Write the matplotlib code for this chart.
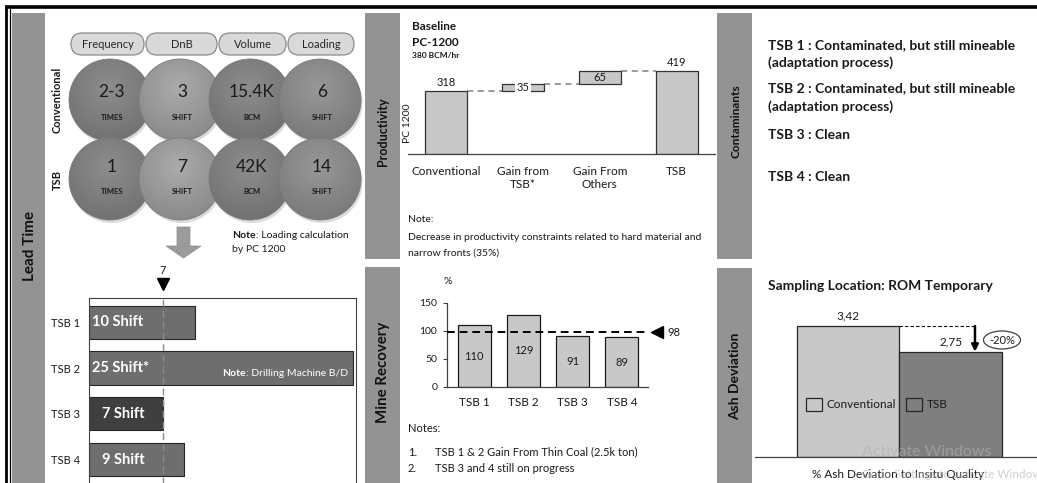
import numpy as np
import matplotlib
matplotlib.use("Agg")
import matplotlib.pyplot as plt
from matplotlib.patches import Rectangle, Circle, FancyBboxPatch, Polygon, Ellipse
from matplotlib.colors import to_rgb

plt.rcParams['font.family'] = ['Lato', 'DejaVu Sans']

# ---------------- data ----------------
metrics = ['Frequency', 'DnB', 'Volume', 'Loading']
metric_units = ['TIMES', 'SHIFT', 'BCM', 'SHIFT']
conventional_values = ['2-3', '3', '15.4K', '6']
tsb_values = ['1', '7', '42K', '14']

sites = ['TSB 1', 'TSB 2', 'TSB 3', 'TSB 4']
lead_time_shifts = [10, 25, 7, 9]
lead_time_labels = ['10 Shift', '25 Shift*', '7 Shift', '9 Shift']
lead_time_target = 7

prod_categories = ['Conventional', 'Gain from\nTSB*', 'Gain From\nOthers', 'TSB']
prod_conventional = 318
prod_gain_tsb = 35
prod_gain_others = 65
prod_tsb = 419

recovery = [110, 129, 91, 89]
recovery_target = 98

ash_series = ['Conventional', 'TSB']
ash_deviation = [3.42, 2.75]
ash_change = '-20%'

contaminant_lines = [
    'TSB 1 : Contaminated, but still mineable',
    '(adaptation process)',
    'TSB 2 : Contaminated, but still mineable',
    '(adaptation process)',
    'TSB 3 : Clean',
    'TSB 4 : Clean',
]

# ---------------- canvas ----------------
W, H = 1037, 483
fig = plt.figure(figsize=(W / 100, H / 100), dpi=100)
fig.patch.set_facecolor('white')


def pixel_axes(zorder):
    a = fig.add_axes([0, 0, 1, 1], zorder=zorder)
    a.set_xlim(0, W)
    a.set_ylim(H, 0)
    a.axis('off')
    a.patch.set_alpha(0)
    return a


bg = pixel_axes(0)     # panels, circles, free text
fg = pixel_axes(10)    # text drawn over the charts

TXT = '#1a1a1a'
BAND = '#939393'


def rect(x0, y0, x1, y1):
    return [x0 / W, 1 - y1 / H, (x1 - x0) / W, (y1 - y0) / H]


renderer = fig.canvas.get_renderer()


def rich_line(ax, x, y, parts, size, color=TXT):
    for txt, weight in parts:
        t = ax.text(x, y, txt, fontsize=size, fontweight=weight, color=color,
                    ha='left', va='center')
        x += t.get_window_extent(renderer=renderer).width


# outer frame
bg.plot([5, W], [7, 7], color='black', lw=2.6, solid_capstyle='butt')
bg.plot([6, 6], [7, H], color='black', lw=2.0)
bg.plot([9.5, 9.5], [9, H], color='black', lw=0.9)

# side bands with section titles
bands = [
    (12, 13, 45, H, 'Lead Time', 246, 11),
    (365, 13, 400, 259, 'Productivity', 132, 9),
    (365, 267, 400, H, 'Mine Recovery', 372, 10.8),
    (717, 13, 752, 259, 'Contaminants', 121, 8.6),
    (717, 268, 752, H, 'Ash Deviation', 376, 10),
]
for x0, y0, x1, y1, title, cy, fs in bands:
    bg.add_patch(Rectangle((x0, y0), x1 - x0, y1 - y0, color=BAND, lw=0, zorder=1))
    bg.text((x0 + x1) / 2 + 1, cy, title, rotation=90, ha='center', va='center',
            fontsize=fs, fontweight='bold', color='#111111', zorder=2)

# ---------------- Lead time: metric pills and circles ----------------
pill_x = [(70, 145), (145, 218), (218, 287), (287, 355)]
for (x0, x1), name in zip(pill_x, metrics):
    bg.add_patch(FancyBboxPatch((x0 + 1, 33), x1 - x0 - 2, 22,
                                boxstyle='round,pad=0,rounding_size=11',
                                facecolor='#d9d9d9', edgecolor='#8a8a8a', lw=0.9, zorder=2))
    bg.text((x0 + x1) / 2, 44.5, name, ha='center', va='center', fontsize=8,
            color='#262626', zorder=3)

circle_cx = [110, 180, 250, 320]
row_cy = [100, 179]
row_num_y = [(92, 117), (167, 191)]
circle_r = 41
circle_colors = ['#848484', '#a0a0a0', '#848484', '#8e8e8e']


def shaded_circle(cx, cy, r, base, z):
    shadow = Circle((cx + 1.5, cy + 3), r, facecolor='#9a9a9a', edgecolor='none',
                    alpha=0.35, zorder=z - 0.2)
    bg.add_patch(shadow)
    n = 160
    yy, xx = np.mgrid[-1:1:n * 1j, -1:1:n * 1j]
    d = np.sqrt((xx + 0.05) ** 2 + (yy + 0.3) ** 2)
    shade = 1.07 - 0.16 * d
    rgb = np.clip(np.array(to_rgb(base))[None, None, :] * shade[..., None], 0, 1)
    im = bg.imshow(rgb, extent=(cx - r, cx + r, cy + r, cy - r), origin='upper',
                   aspect='auto', interpolation='bilinear', zorder=z)
    edge = Circle((cx, cy), r, facecolor='none', edgecolor='#7a7a7a', lw=0.6, zorder=z + 0.1)
    bg.add_patch(edge)
    im.set_clip_path(edge)


z = 3
for row, values in enumerate([conventional_values, tsb_values]):
    for i, (val, unit) in enumerate(zip(values, metric_units)):
        shaded_circle(circle_cx[i], row_cy[row], circle_r, circle_colors[i], z)
        bg.text(circle_cx[i] + 2, row_num_y[row][0], val, ha='center', va='center',
                fontsize=12.5, color='#1a1a1a', zorder=z + 0.5)
        bg.text(circle_cx[i] + 2, row_num_y[row][1], unit, ha='center', va='center',
                fontsize=5.5, fontweight='bold', color='#1a1a1a', zorder=z + 0.5)
        z += 1
bg.set_xlim(0, W)
bg.set_ylim(H, 0)

bg.text(57.5, 100, 'Conventional', rotation=90, ha='center', va='center',
        fontsize=8, fontweight='bold', color=TXT)
bg.text(57.5, 180, 'TSB', rotation=90, ha='center', va='center',
        fontsize=8, fontweight='bold', color=TXT)

# block arrow
bg.add_patch(Polygon([(177, 227), (190, 227), (190, 246), (201, 246), (183.5, 258),
                      (166, 246), (177, 246)], closed=True, facecolor='#9b9b9b',
                     edgecolor='#8a8a8a', lw=0.5, zorder=2))

rich_line(bg, 232, 235, [('Note', 'bold'), (': Loading calculation', 'normal')], 7.5)
bg.text(232, 250, 'by PC 1200', ha='left', va='center', fontsize=7.5, color=TXT)

# ---------------- Lead time: bars per site ----------------
ax1 = fig.add_axes(rect(89, 298, 356, 492), zorder=3)
ax1.set_facecolor('none')
ypos = np.arange(len(sites))
bar_colors = ['#6e6e6e', '#6e6e6e', '#3f3f3f', '#6e6e6e']
ax1.barh(ypos, lead_time_shifts, height=0.72, color=bar_colors, edgecolor='#262626',
         lw=0.8, zorder=2)
ax1.set_xlim(0, 25.25)
ax1.set_ylim(3.7, -0.525)
ax1.set_yticks(ypos, sites)
ax1.set_xticks([])
ax1.tick_params(axis='y', length=0, pad=6.5, labelsize=8, labelcolor=TXT)
for s in ['top', 'left', 'right']:
    ax1.spines[s].set_color('#404040')
    ax1.spines[s].set_linewidth(0.8)
ax1.spines['bottom'].set_visible(False)
ax1.axvline(lead_time_target, color='#8c8c8c', lw=1, ls=(0, (5, 3)), zorder=3)
label_indent = [0.3, 0.3, 1.25, 1.25]
for yi, lab, ind in zip(ypos, lead_time_labels, label_indent):
    ax1.text(ind, yi, lab, ha='left', va='center', color='white', fontsize=10.5,
             fontweight='bold', zorder=4)
trans = ax1.get_xaxis_transform()
ax1.plot([lead_time_target], [1 + 14 / 194], marker='v', color='black', markersize=8,
         transform=trans, clip_on=False)
ax1.text(lead_time_target, 1 + 28 / 194, str(lead_time_target), transform=trans,
         ha='center', va='center', fontsize=8, color=TXT)
rich_line(fg, 222, 373, [('Note', 'bold'), (': Drilling Machine B/D', 'normal')], 7.5,
          color='white')

# ---------------- Productivity waterfall ----------------
bg.text(412, 26, 'Baseline', ha='left', va='center', fontsize=8.5, fontweight='bold', color=TXT)
bg.text(412, 42, 'PC-1200', ha='left', va='center', fontsize=8.5, fontweight='bold', color=TXT)
bg.text(412, 55.5, '380 BCM/hr', ha='left', va='center', fontsize=6, fontweight='bold', color=TXT)
bg.text(408, 123, 'PC 1200', rotation=90, ha='center', va='center', fontsize=7.5, color=TXT)

ax2 = fig.add_axes(rect(408, 50, 715, 154), zorder=3)
ax2.set_facecolor('none')
wx = np.arange(len(prod_categories))
bw = 0.55
bottoms = [0, prod_conventional, prod_conventional + prod_gain_tsb, 0]
heights = [prod_conventional, prod_gain_tsb, prod_gain_others, prod_tsb]
ax2.bar(wx, heights, bottom=bottoms, width=bw, color='#c8c8c8', edgecolor='#333333',
        lw=0.9, zorder=2)
ax2.set_xlim(-0.5, 3.5)
ax2.set_ylim(0, 525)
starts = [prod_conventional, prod_conventional + prod_gain_tsb,
          prod_conventional + prod_gain_tsb + prod_gain_others]
for i in range(3):
    ax2.plot([wx[i] + bw / 2, wx[i + 1] - bw / 2], [starts[i], starts[i]],
             color='#7f7f7f', lw=1.1, ls=(0, (4, 3)), zorder=1)
ax2.text(wx[0], prod_conventional + 14, str(prod_conventional), ha='center', va='bottom',
         fontsize=8, color=TXT)
ax2.text(wx[3], prod_tsb + 14, str(prod_tsb), ha='center', va='bottom', fontsize=8, color=TXT)
ax2.text(wx[1], prod_conventional + prod_gain_tsb / 2, str(prod_gain_tsb), ha='center',
         va='center', fontsize=8, color=TXT, zorder=4,
         bbox=dict(boxstyle='square,pad=0.15', facecolor='white', edgecolor='none'))
ax2.text(wx[2], prod_conventional + prod_gain_tsb + prod_gain_others / 2, str(prod_gain_others),
         ha='center', va='center', fontsize=8, color=TXT, zorder=4)
ax2.set_xticks(wx, prod_categories)
ax2.tick_params(axis='x', length=0, pad=8.5, labelsize=8.5, labelcolor=TXT)
ax2.set_yticks([])
for s in ['top', 'left', 'right']:
    ax2.spines[s].set_visible(False)
ax2.spines['bottom'].set_color('#404040')
ax2.spines['bottom'].set_linewidth(0.9)
for lab in ax2.get_xticklabels():
    lab.set_linespacing(1.25)

bg.text(408, 220, 'Note:', ha='left', va='center', fontsize=7.5, color=TXT)
bg.text(408, 237, 'Decrease in productivity constraints related to hard material and',
        ha='left', va='center', fontsize=7.5, color=TXT)
bg.text(408, 253, 'narrow fronts (35%)', ha='left', va='center', fontsize=7.5, color=TXT)

# ---------------- Mine recovery ----------------
ax3 = fig.add_axes(rect(447, 290, 648, 387), zorder=3)
ax3.set_facecolor('none')
rx = np.arange(len(sites))
ax3.bar(rx, recovery, width=0.67, color='#c8c8c8', edgecolor='#1a1a1a', lw=0.9, zorder=2)
ax3.set_xlim(-0.55, 3.53)
ax3.set_ylim(0, 173.2)
ax3.set_yticks([0, 50, 100, 150])
ax3.set_xticks(rx, sites)
ax3.tick_params(axis='y', length=3, width=0.8, pad=4, labelsize=7.5, labelcolor=TXT,
                color='#404040')
ax3.tick_params(axis='x', length=0, pad=7, labelsize=8.5, labelcolor=TXT)
for s in ['top', 'right']:
    ax3.spines[s].set_visible(False)
ax3.spines['left'].set_bounds(0, 150)
for s in ['left', 'bottom']:
    ax3.spines[s].set_color('#404040')
    ax3.spines[s].set_linewidth(0.9)
for xi, v in zip(rx, recovery):
    ax3.text(xi, v / 2, str(v), ha='center', va='center', fontsize=8, color=TXT, zorder=4)
ax3.axhline(recovery_target, color='black', lw=1.4, ls=(0, (4, 2.5)), zorder=3)
ax3.plot([3.71], [recovery_target], marker='<', color='black', markersize=8, clip_on=False)
ax3.text(3.93, recovery_target, str(recovery_target), ha='left', va='center', fontsize=8,
         color=TXT)
bg.text(448, 281, '%', ha='center', va='center', fontsize=7.5, color=TXT)

bg.text(408, 428, 'Notes:', ha='left', va='center', fontsize=8, color=TXT)
bg.text(408, 452, '1.', ha='left', va='center', fontsize=8, color=TXT)
bg.text(435, 452, 'TSB 1 & 2 Gain From Thin Coal (2.5k ton)', ha='left', va='center',
        fontsize=8, color=TXT)
bg.text(408, 469, '2.', ha='left', va='center', fontsize=8, color=TXT)
bg.text(435, 469, 'TSB 3 and 4 still on progress', ha='left', va='center', fontsize=8,
        color=TXT)

# ---------------- Contaminants ----------------
cont_y = [45, 63, 88, 107, 135, 177]
for yv, line in zip(cont_y, contaminant_lines):
    bg.text(768, yv, line, ha='left', va='center', fontsize=10, fontweight='bold', color=TXT)

# ---------------- Ash deviation ----------------
bg.text(768, 286, 'Sampling Location: ROM Temporary', ha='left', va='center', fontsize=10,
        fontweight='bold', color=TXT)
ax4 = fig.add_axes(rect(755, 300, 1045, 457), zorder=3)
ax4.set_facecolor('none')
ax_x = np.arange(len(ash_series))
ash_colors = ['#c8c8c8', '#7f7f7f']
bars = ax4.bar(ax_x, ash_deviation, width=1.0, color=ash_colors, edgecolor='#262626',
               lw=0.9, zorder=2)
ax4.set_xlim(-0.903, 1.913)
ax4.set_ylim(0, 4.1)
ax4.set_xticks([])
ax4.set_yticks([])
for s in ['top', 'left', 'right']:
    ax4.spines[s].set_visible(False)
ax4.spines['bottom'].set_color('#404040')
ax4.spines['bottom'].set_linewidth(0.9)
for xi, v in zip(ax_x, ash_deviation):
    ax4.text(xi, v + 0.12, f'{v:.2f}'.replace('.', ','), ha='center', va='bottom',
             fontsize=8.5, color=TXT)
arrow_x = 1.233
ax4.plot([0.5, arrow_x], [ash_deviation[0], ash_deviation[0]], color='black', lw=0.8,
         ls=(0, (3, 2)), zorder=3)
ax4.annotate('', xy=(arrow_x, ash_deviation[1]), xytext=(arrow_x, ash_deviation[0]),
             arrowprops=dict(arrowstyle='-|>', color='black', lw=1.8, mutation_scale=10,
                             shrinkA=0, shrinkB=0), zorder=4)
fg.add_patch(Ellipse((1002, 340), 37, 18, facecolor='white', edgecolor='#404040', lw=0.9))
fg.text(1002, 340, ash_change, ha='center', va='center', fontsize=8, color=TXT)
ax4.legend(bars, ash_series, loc='center left', bbox_to_anchor=(0.16, 0.335), ncol=2,
           frameon=False, fontsize=8.5, handlelength=1.35, handleheight=1.3,
           handletextpad=0.4, columnspacing=0.8, borderaxespad=0, labelcolor=TXT)
bg.text(898, 475, '% Ash Deviation to Insitu Quality', ha='center', va='center',
        fontsize=8.5, color=TXT, zorder=5)

# desktop watermark overlay
fg.text(862, 452, 'Activate Windows', ha='left', va='center', fontsize=11.5,
        color='#b0b0b0', alpha=0.6)
fg.text(862, 475, 'Go to Settings to activate Windows.', ha='left', va='center', fontsize=8.5,
        color='#b0b0b0', alpha=0.6)

fig.savefig('out.png', dpi=100)
